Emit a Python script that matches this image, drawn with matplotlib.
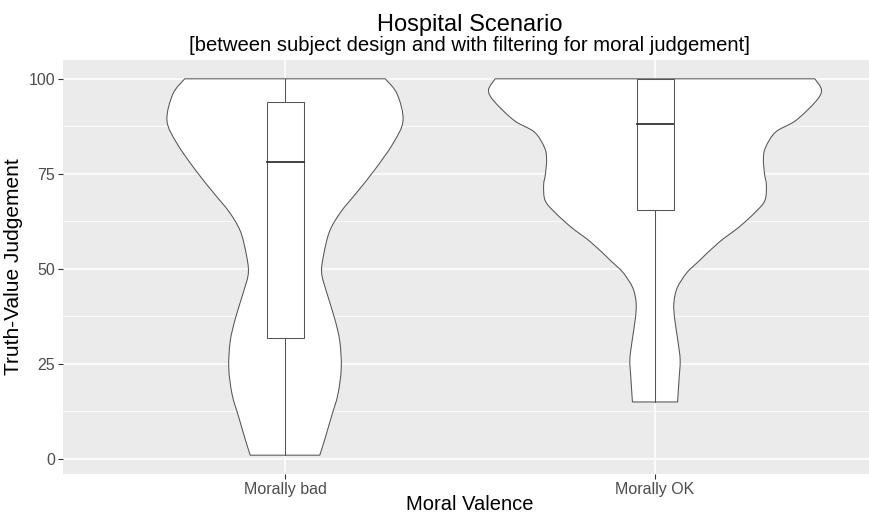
#!/usr/bin/env python3
# plot.py - violin + box plot of truth-value judgements (hospital scenario)

import numpy as np
import matplotlib
matplotlib.use("Agg")
import matplotlib.pyplot as plt
from matplotlib.path import Path
from matplotlib.patches import PathPatch

# categories on the x axis
categories = ["Morally bad", "Morally OK"]

# violin outlines: value level -> half width (in category units)
bad_levels = [1, 5, 11, 17, 24, 31, 37, 44, 49, 54, 60, 65, 70, 76, 83, 89, 96, 100]
bad_halfwidth = [0.094, 0.107, 0.125, 0.143, 0.152, 0.148, 0.134, 0.112, 0.099,
                 0.105, 0.121, 0.151, 0.193, 0.242, 0.292, 0.319, 0.303, 0.271]

ok_levels = [15, 21, 26, 31, 37, 41, 45, 49, 52, 57, 61, 65, 68, 72, 75, 79, 82,
             86, 89, 94, 97, 100]
ok_halfwidth = [0.061, 0.065, 0.068, 0.062, 0.053, 0.051, 0.060, 0.086, 0.118,
                0.173, 0.227, 0.272, 0.297, 0.301, 0.296, 0.293, 0.299, 0.326,
                0.380, 0.434, 0.450, 0.432]

# box plot statistics per category
whisker_low = [1, 15]
q1 = [31.9, 65.6]
median = [78, 88.2]
q3 = [94, 100]
whisker_high = [100, 100]

y_ticks = [0, 25, 50, 75, 100]

LINE = "#555555"
plt.rcParams["font.family"] = ["Liberation Sans", "DejaVu Sans"]


def smooth_side(xs, ys):
    """Catmull-Rom through the read points, as cubic bezier path pieces"""
    verts = [(xs[0], ys[0])]
    codes = []
    n = len(xs)
    for i in range(n - 1):
        p0 = np.array([xs[max(i - 1, 0)], ys[max(i - 1, 0)]])
        p1 = np.array([xs[i], ys[i]])
        p2 = np.array([xs[i + 1], ys[i + 1]])
        p3 = np.array([xs[min(i + 2, n - 1)], ys[min(i + 2, n - 1)]])
        c1 = p1 + (p2 - p0) / 6
        c2 = p2 - (p3 - p1) / 6
        verts += [tuple(c1), tuple(c2), tuple(p2)]
        codes += [Path.CURVE4] * 3
    return verts, codes


def draw_violin(ax, pos, levels, halfwidth):
    levels = np.asarray(levels, dtype=float)
    hw = np.asarray(halfwidth, dtype=float)
    rv, rc = smooth_side(pos + hw, levels)
    lv, lc = smooth_side((pos - hw)[::-1], levels[::-1])
    verts = rv + lv + [rv[0]]
    codes = [Path.MOVETO] + rc + [Path.LINETO] + lc + [Path.CLOSEPOLY]
    patch = PathPatch(Path(verts, codes), facecolor="white", edgecolor=LINE,
                      linewidth=0.75, zorder=3)
    ax.add_patch(patch)


def draw_box(ax, pos, lo, a, m, b, hi, width=0.1):
    ax.plot([pos, pos], [lo, a], color=LINE, lw=0.75, zorder=4)
    ax.plot([pos, pos], [b, hi], color=LINE, lw=0.75, zorder=4)
    rect = plt.Rectangle((pos - width / 2, a), width, b - a, facecolor="white",
                         edgecolor=LINE, lw=0.75, zorder=4)
    ax.add_patch(rect)
    ax.plot([pos - width / 2, pos + width / 2], [m, m], color="#333333", lw=1.3, zorder=5)


def main():
    fig = plt.figure(figsize=(8.69, 5.16), dpi=100)
    ax = fig.add_axes([63 / 869, 1 - 474 / 516, 814 / 869, 414 / 516])
    ax.set_facecolor("#EBEBEB")

    positions = np.arange(1, len(categories) + 1)
    ax.set_xlim(0.4, 2.6)
    ax.set_ylim(-3.95, 104.95)

    # grid
    ax.set_yticks(y_ticks)
    ax.set_yticks([12.5, 37.5, 62.5, 87.5], minor=True)
    ax.set_xticks(positions)
    ax.set_xticklabels(categories)
    ax.grid(which="major", color="white", lw=1.1, zorder=0)
    ax.grid(which="minor", axis="y", color="white", lw=0.55, zorder=0)
    ax.set_axisbelow(True)
    for s in ax.spines.values():
        s.set_visible(False)

    ax.tick_params(which="major", length=3.8, width=0.8, color="#333333",
                   labelcolor="#4D4D4D", labelsize=11.5, pad=2)
    ax.tick_params(which="minor", length=0)

    draw_violin(ax, positions[0], bad_levels, bad_halfwidth)
    draw_violin(ax, positions[1], ok_levels, ok_halfwidth)
    for i, p in enumerate(positions):
        draw_box(ax, p, whisker_low[i], q1[i], median[i], q3[i], whisker_high[i])

    ax.set_ylabel("Truth-Value Judgement", fontsize=15, color="black", labelpad=4)

    cx = (63 + 877) / 2 / 869
    fig.text(cx, 1 - 510 / 516, "Moral Valence", ha="center", va="baseline",
             fontsize=14.5)
    fig.text(cx, 1 - 31 / 516, "Hospital Scenario", ha="center", va="baseline",
             fontsize=17)
    fig.text(cx, 1 - 51 / 516,
             "[between subject design and with filtering for moral judgement]",
             ha="center", va="baseline", fontsize=14.6)

    fig.savefig("out.png", dpi=100)
    plt.close(fig)


if __name__ == "__main__":
    main()
